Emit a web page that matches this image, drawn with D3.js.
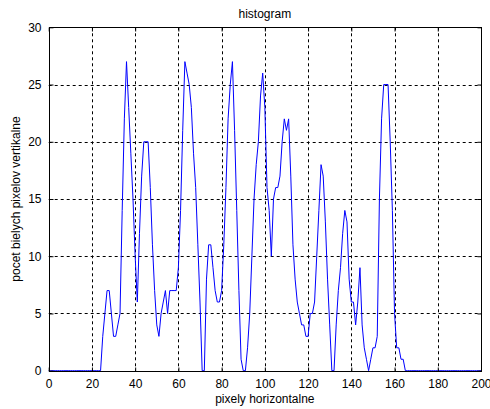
<!DOCTYPE html>
<html>
<head>
<meta charset="utf-8">
<script src="https://cdnjs.cloudflare.com/ajax/libs/d3/7.8.5/d3.min.js"></script>
<style>
body { margin: 0; background: #fff; }
svg { display: block; font-family: "Liberation Sans", Arial, sans-serif; }
</style>
</head>
<body>
<svg id="chart"></svg>
<script>
var width = 490
var height = 409

// pocet bielych pixelov v kazdom stlpci (x = 0..200), po desiatkach
var counts = [
0,0,0,0,0,0,0,0,0,0,         // 0
0,0,0,0,0,0,0,0,0,0,         // 10
0,0,0,0,0,3,5,7,7,5,         // 20
3,3,4,5,14,22,27,23,19,15,   // 30
10,6,12,17,20,20,20,16,11,7, // 40
4,3,5,6,7,5,7,7,7,7,         // 50
9,14,21,27,26,25,23,19,16,11,// 60
6,0,0,8,11,11,9,7,6,6,       // 70
7,11,16,22,25,27,21,14,7,1,  // 80
0,0,2,5,10,15,18,20,24,26,   // 90
23,16,14,10,15,16,16,17,20,22, // 100
21,22,17,11,8,6,5,4,4,3,     // 110
3,5,5,6,10,14,18,17,13,8,    // 120
4,0,0,4,7,9,12,14,13,8,      // 130
6,6,4,6,9,4,2,1,0,1,         // 140
2,2,3,15,22,25,25,25,20,14,  // 150
5,2,2,1,1,0,0,0,0,0,         // 160
0,0,0,0,0,0,0,0,0,0,         // 170
0,0,0,0,0,0,0,0,0,0,         // 180
0,0,0,0,0,0,0,0,0,0,         // 190
0                            // 200
]
var xTicks = [0, 20, 40, 60, 80, 100, 120, 140, 160, 180, 200]
var yTicks = [0, 5, 10, 15, 20, 25, 30]

var plotL = 48.7, plotR = 481, plotT = 27.3, plotB = 370.7

var svg = d3.select("#chart")
	.attr("width", width)
	.attr("height", height)

var x = d3.scaleLinear().domain([0, 200]).range([plotL, plotR])
var y = d3.scaleLinear().domain([0, 30]).range([plotB, plotT])

// grid
svg.append("g").selectAll("line")
	.data(xTicks.slice(1, -1))
	.join("line")
	.attr("x1", d => Math.round(x(d)) + 0.5)
	.attr("x2", d => Math.round(x(d)) + 0.5)
	.attr("y1", plotT)
	.attr("y2", plotB)
	.attr("stroke", "#000")
	.attr("stroke-dasharray", "3,3")

svg.append("g").selectAll("line")
	.data(yTicks.slice(1, -1))
	.join("line")
	.attr("y1", d => Math.round(y(d)) + 0.5)
	.attr("y2", d => Math.round(y(d)) + 0.5)
	.attr("x1", plotL)
	.attr("x2", plotR)
	.attr("stroke", "#000")
	.attr("stroke-dasharray", "3,3")

// data line
var line = d3.line()
	.x((d, i) => x(i))
	.y(d => y(d))

svg.append("path")
	.datum(counts)
	.attr("d", line)
	.attr("fill", "none")
	.attr("stroke", "#0000ff")
	.attr("stroke-width", 1)

// box
svg.append("rect")
	.attr("x", Math.round(plotL) + 0.5)
	.attr("y", Math.round(plotT) + 0.5)
	.attr("width", Math.round(plotR) - Math.round(plotL))
	.attr("height", Math.round(plotB) - Math.round(plotT))
	.attr("fill", "none")
	.attr("stroke", "#000")

// axes (inward ticks like matlab)
svg.append("g")
	.attr("transform", "translate(0," + (Math.round(plotB) + 0.5) + ")")
	.call(d3.axisBottom(x).tickValues(xTicks).tickSizeInner(-4).tickSizeOuter(0).tickPadding(8))
svg.append("g")
	.attr("transform", "translate(" + (Math.round(plotL) + 0.5) + ",0)")
	.call(d3.axisLeft(y).tickValues(yTicks).tickSizeInner(-4).tickSizeOuter(0).tickPadding(8))
// mirrored ticks on top and right
svg.append("g")
	.attr("transform", "translate(0," + (Math.round(plotT) + 0.5) + ")")
	.call(d3.axisTop(x).tickValues(xTicks).tickSizeInner(-4).tickSizeOuter(0).tickFormat(""))
svg.append("g")
	.attr("transform", "translate(" + (Math.round(plotR) + 0.5) + ",0)")
	.call(d3.axisRight(y).tickValues(yTicks).tickSizeInner(-4).tickSizeOuter(0).tickFormat(""))

svg.selectAll(".domain").remove()
svg.selectAll(".tick text")
	.attr("font-size", 12)
	.attr("font-family", "'Liberation Sans', Arial, sans-serif")
	.attr("fill", "#000")

// labels
svg.append("text")
	.attr("x", (plotL + plotR) / 2)
	.attr("y", 18)
	.attr("text-anchor", "middle")
	.attr("font-size", 12)
	.text("histogram")

svg.append("text")
	.attr("x", (plotL + plotR) / 2)
	.attr("y", 403)
	.attr("text-anchor", "middle")
	.attr("font-size", 12)
	.text("pixely horizontalne")

svg.append("text")
	.attr("transform", "translate(20," + ((plotT + plotB) / 2) + ") rotate(-90)")
	.attr("text-anchor", "middle")
	.attr("font-size", 12)
	.text("pocet bielych pixelov vertikalne")
</script>
</body>
</html>
